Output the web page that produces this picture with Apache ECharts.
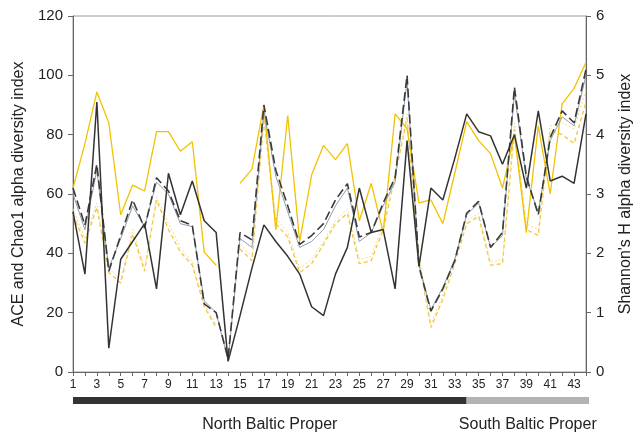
<!DOCTYPE html>
<html><head><meta charset="utf-8">
<script src="https://cdn.jsdelivr.net/npm/echarts@6/dist/echarts.min.js"></script>
<style>html,body{margin:0;padding:0;background:#fff}#c{width:642px;height:441px}</style>
</head><body><div id="c"></div>
<script>
const categories = ['1','2','3','4','5','6','7','8','9','10','11','12','13','14','15','16','17','18','19','20','21','22','23','24','25','26','27','28','29','30','31','32','33','34','35','36','37','38','39','40','41','42','43','44'];
// Shannon H (right axis)
const shannonBlack = [2.7,1.65,4.55,0.4,1.9,2.2,2.5,1.4,3.35,2.65,3.22,2.55,2.35,0.18,0.95,1.75,2.48,2.2,1.95,1.65,1.1,0.95,1.65,2.1,3.1,2.35,2.4,1.4,3.9,1.78,3.1,2.9,3.6,4.35,4.05,3.98,3.5,4.0,3.1,4.4,3.22,3.3,3.18,4.35];
const shannonYellow = [3.1,3.85,4.72,4.2,2.65,3.15,3.05,4.05,4.05,3.72,3.88,2.02,1.8,null,3.18,3.42,4.5,2.4,4.32,2.2,3.32,3.82,3.58,3.85,2.55,3.18,2.35,4.35,4.1,2.85,2.9,2.5,3.35,4.22,3.9,3.68,3.1,4.0,2.35,4.15,3.0,4.52,4.78,5.22];
// ACE / Chao1 (left axis)
const aceBlack = [62,49.5,70,34,46,58,48.5,65.5,61,51,49.5,23,20,4.5,47,44.5,90,68,56,43,46,50,58,63.5,45.5,47,57,65.5,100,35.5,20.5,28,37.5,53.5,57.5,42,47,96,66,53,79,88,84,102];
const chaoBlack = [60,48,68,35,45,56,49,64,60,50,49,24,20,4,45,42,88,66,54,42,44,48,56,62,44,47,56,64,98,36,21,28.5,38,53,57,42,46,94,65,54,78,86,83,100];
const aceYellow = [53,43.5,55.5,33.5,30,46.5,34,58,48,40.5,36,22,15,null,41.5,37.5,85.5,50,45.5,33.5,36.5,43,50,53.5,36.5,37.5,48,66,85.5,37.5,15,24.5,36.5,50,52.5,36,36.5,82,48,46,81.5,80,77,91];
const chaoYellow = [55,45,57,35,31,48,35,59,50,42,37,23,16,null,43,39,87,52,47,35,38,44,51,55,38,39,50,67,87,39,16,26,38,51,53.5,37,38,84,50,48,83,84,82,95];
const leftTicks = {min:0,max:120,interval:20};
const rightTicks = {min:0,max:6,interval:1};
const regions = [
  {name:'North Baltic Proper', from:1, to:33.8, color:'#333333'},
  {name:'South Baltic Proper', from:33.8, to:44, color:'#b3b3b3'}
];

const FONT = 'Liberation Sans, Arial, sans-serif';
const chart = echarts.init(document.getElementById('c'), null, {renderer:'canvas'});
function ln(name, data, yIdx, color, width, type, z){
  return {name, type:'line', data, xAxisIndex:0, yAxisIndex:yIdx, symbol:'none', z:z||2,
    connectNulls:false, lineStyle:{color, width, type}, emphasis:{disabled:true}};
}
chart.setOption({
  animation:false,
  grid:[
    {left:73, right:53, top:16, bottom:69, show:true, borderColor:'#9a9a9a', borderWidth:1},
    {left:73, right:53, top:397, height:7}
  ],
  xAxis:[
    {type:'category', gridIndex:0, data:categories, boundaryGap:false,
     axisLine:{lineStyle:{color:'#666', width:1}},
     axisTick:{show:true, interval:0, length:4, lineStyle:{color:'#666'}},
     axisLabel:{interval:1, color:'#222', fontSize:12, fontFamily:FONT, margin:7},
     splitLine:{show:false}},
    {type:'value', gridIndex:1, min:1, max:44, show:false}
  ],
  yAxis:[
    {type:'value', gridIndex:0, position:'left', min:leftTicks.min, max:leftTicks.max, interval:leftTicks.interval,
     name:'ACE and Chao1 alpha diversity index', nameLocation:'middle', nameGap:42, nameRotate:90,
     nameTextStyle:{fontSize:16, color:'#222', fontFamily:FONT},
     axisLine:{show:true, lineStyle:{color:'#666'}}, axisTick:{show:true, length:5, lineStyle:{color:'#666'}},
     axisLabel:{color:'#222', fontSize:15, fontFamily:FONT, margin:10}, splitLine:{show:false}},
    {type:'value', gridIndex:0, position:'right', min:rightTicks.min, max:rightTicks.max, interval:rightTicks.interval,
     name:"Shannon's H alpha diversity index", nameLocation:'middle', nameGap:32, nameRotate:90,
     nameTextStyle:{fontSize:16, color:'#222', fontFamily:FONT},
     axisLine:{show:true, lineStyle:{color:'#666'}}, axisTick:{show:true, length:5, lineStyle:{color:'#666'}},
     axisLabel:{color:'#222', fontSize:15, fontFamily:FONT, margin:10}, splitLine:{show:false}},
    {type:'value', gridIndex:1, min:0, max:1, show:false}
  ],
  series:[
    ln('ACE yellow', aceYellow, 0, '#f3c63a', 1.3, [4,3], 2),
    ln('Chao1 yellow', chaoYellow, 0, '#f1dc8c', 1, [2,2], 2),
    ln('Shannon yellow', shannonYellow, 1, '#f2c200', 1.3, 'solid', 3),
    ln('Chao1 black', chaoBlack, 0, '#8d9bb0', 1, 'solid', 3),
    ln('ACE black', aceBlack, 0, '#3a3a3a', 1.6, [9,4], 4),
    ln('Shannon black', shannonBlack, 1, '#333333', 1.5, 'solid', 5),
    {type:'line', xAxisIndex:1, yAxisIndex:2, data:[], symbol:'none',
     markArea:{silent:true,
       label:{show:true, position:'bottom', distance:13, color:'#222', fontSize:16, fontFamily:FONT},
       data: regions.map(r => [{xAxis:r.from, name:r.name, itemStyle:{color:r.color}}, {xAxis:r.to}])}}
  ]
});
</script></body></html>
